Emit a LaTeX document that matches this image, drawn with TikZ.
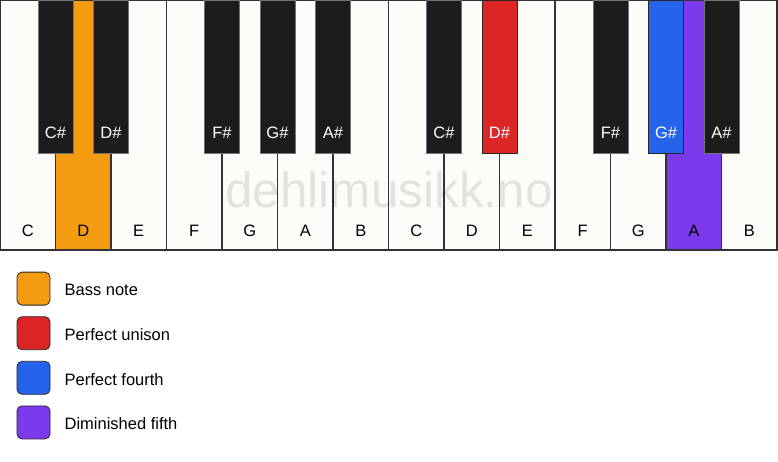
\documentclass[tikz,border=0pt]{standalone}
\usepackage{fontspec}
\setmainfont{Liberation Sans}
\usetikzlibrary{positioning}
\definecolor{keywhite}{HTML}{FDFCF9}
\definecolor{keyblack}{HTML}{1C1C1C}
\definecolor{bassnote}{HTML}{F39C12}
\definecolor{unison}{HTML}{DC2626}
\definecolor{fourth}{HTML}{2563EB}
\definecolor{dimfifth}{HTML}{7C3AED}
\newcommand\keywidth{55.5}
\newcommand\whiteheight{250}
\newcommand\blackheight{153}
\newcommand\blackhalf{17.5}
\newcommand\legstep{44.6}

\begin{document}
\begin{tikzpicture}[x=1pt,y=-1pt,
    whitekey/.style={draw=black!80, line width=1.2pt},
    blackkey/.style={draw=black!55, line width=0.8pt},
    keylabel/.style={font=\fontsize{16.5}{18}\selectfont, anchor=base, inner sep=0pt},
    legbox/.style={draw=black!85, line width=0.8pt, rounded corners=5pt, minimum size=33pt, inner sep=0pt},
    legtext/.style={font=\fontsize{16.5}{19}\selectfont, inner sep=0pt, text depth=0pt, yshift=-1.5pt}]
   \useasboundingbox (0,0) rectangle (778,461);
   \fill[white] (0,0) rectangle (778,461);
   % --- White keys
   \foreach \name/\col [count=\i from 0] in {C/keywhite,D/bassnote,E/keywhite,F/keywhite,G/keywhite,A/keywhite,B/keywhite,C/keywhite,D/keywhite,E/keywhite,F/keywhite,G/keywhite,A/dimfifth,B/keywhite}
   {
      \draw[whitekey, fill=\col] (\i*\keywidth,0) rectangle ++(\keywidth,\whiteheight);
      \node[keylabel] (white\i) at ({(\i+0.5)*\keywidth},236) {\name};
   }
   % --- Watermark
   \node[font=\fontsize{49.5}{52}\selectfont, text=black, text opacity=0.1, anchor=base, inner sep=0pt] (mark) at (389,207) {dehlimusikk.no};
   % --- Black keys
   \foreach \j/\name/\col/\edge in {1/C\#/keyblack/black!55,2/D\#/keyblack/black!55,4/F\#/keyblack/black!55,5/G\#/keyblack/black!55,6/A\#/keyblack/black!55,8/C\#/keyblack/black!55,9/D\#/unison/black!85,11/F\#/keyblack/black!55,12/G\#/fourth/black!85,13/A\#/keyblack/black!55}
   {
      \draw[blackkey, draw=\edge, fill=\col] (\j*\keywidth-\blackhalf,0) rectangle (\j*\keywidth+\blackhalf,\blackheight);
      \node[keylabel, text=white] (black\j) at (\j*\keywidth,138) {\name};
   }
   % --- Legend
   \node[legbox, fill=bassnote] (bass) at (33.5,288.6) {};
   \node[legbox, fill=unison] (unis) at (33.5,288.6+\legstep) {};
   \node[legbox, fill=fourth] (four) at (33.5,288.6+2*\legstep) {};
   \node[legbox, fill=dimfifth] (dimf) at (33.5,288.6+3*\legstep) {};
   \node[legtext, right=14pt of bass] (basstext) {Bass note};
   \node[legtext, right=14pt of unis] (unistext) {Perfect unison};
   \node[legtext, right=14pt of four] (fourtext) {Perfect fourth};
   \node[legtext, right=14pt of dimf] (dimftext) {Diminished fifth};
\end{tikzpicture}
\end{document}
